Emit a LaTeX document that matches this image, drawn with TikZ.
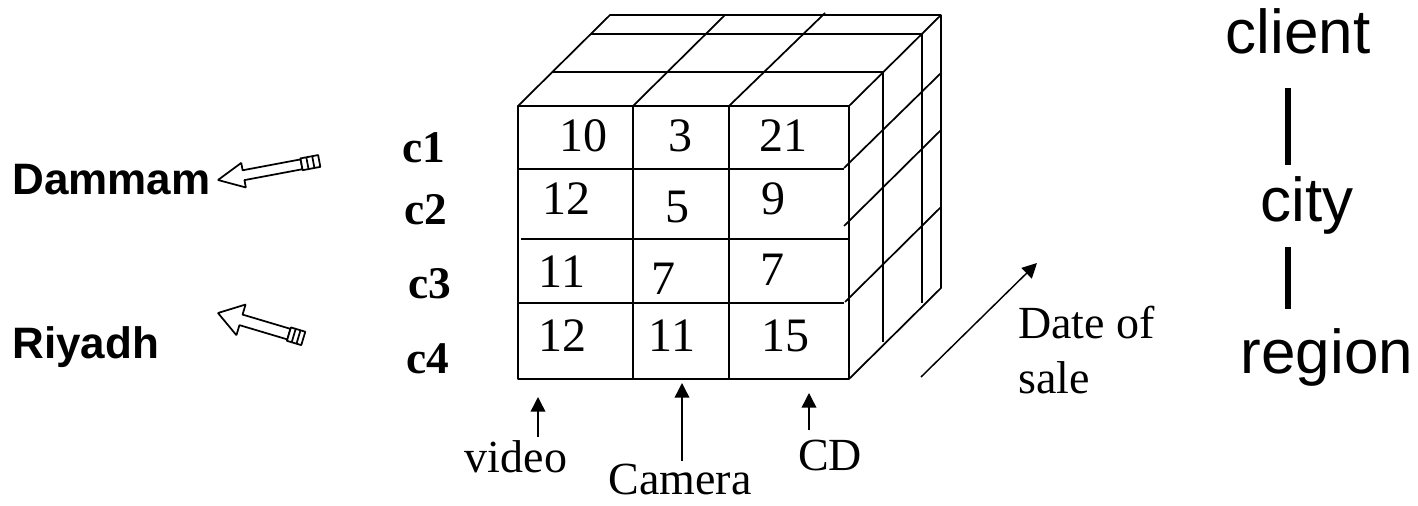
\documentclass[tikz,border=0pt]{standalone}
\usepackage{fontspec}
\setmainfont{Liberation Serif}
\newfontfamily\arialfont{Liberation Sans}
\usetikzlibrary{arrows.meta}

\begin{document}
\begin{tikzpicture}[x=0.75pt,y=-0.75pt,>={Triangle[length=11pt,width=11pt]},line join=bevel,
    cube/.style={line width=1.3pt},
    cell/.style={anchor=base,inner sep=0pt,font=\fontsize{36}{40}\selectfont},
    axislabel/.style={anchor=base,inner sep=0pt,font=\fontsize{34.5}{38}\selectfont},
    member/.style={anchor=base,inner sep=0pt,font=\bfseries\fontsize{34}{38}\selectfont},
    place/.style={anchor=base west,inner sep=0pt,font=\arialfont\bfseries\fontsize{33}{36}\selectfont},
    level/.style={anchor=base,inner sep=0pt,font=\arialfont\fontsize{46.5}{50}\selectfont},
    pointer/.style={->,line width=1.1pt},
    levelbar/.style={line width=5pt},
    fatarrow/.style={line width=1.3pt,fill=white}]
    \useasboundingbox (0,0) rectangle (1418,506);
    %%
    %% front face
    \draw[cube] (518,106) rectangle (849,379);
    \foreach \x in {633,729}
        \draw[cube] (\x,106) -- (\x,379);
    \draw[cube] (518,169) -- (844,169);
    \draw[cube] (521,239) -- (849,239);
    \draw[cube] (518,303) -- (844,303);
    %% top face
    \draw[cube] (518,106) -- (610,15) -- (941,15) -- (849,106);
    \draw[cube] (633,106) -- (725,15);
    \draw[cube] (729,106) -- (825,13);
    \draw[cube] (552,72) -- (883,72) -- (883,342);
    \draw[cube] (591,34) -- (922,34) -- (922,303);
    %% right face
    \draw[cube] (941,15) -- (941,288) -- (849,379);
    \draw[cube] (844,168) -- (941,73);
    \draw[cube] (844,226) -- (941,130);
    \draw[cube] (845,302) -- (941,207);
    %%
    \node (v11) at (583,152) [cell] {10};
    \node (v12) at (680,152) [cell] {3};
    \node (v13) at (783,152) [cell] {21};
    \node (v21) at (566,215) [cell] {12};
    \node (v22) at (677,223) [cell] {5};
    \node (v23) at (773,215) [cell] {9};
    \node (v31) at (562,287) [cell] {11};
    \node (v32) at (663,295) [cell] {7};
    \node (v33) at (772,286) [cell] {7};
    \node (v41) at (562,351) [cell] {12};
    \node (v42) at (672,351) [cell] {11};
    \node (v43) at (785,351) [cell] {15};
    %%
    \node (c1) at (424,163) [member] {c1};
    \node (c2) at (426,225) [member] {c2};
    \node (c3) at (430,298) [member] {c3};
    \node (c4) at (428,373) [member] {c4};
    %%
    \node (video) at (516,472) [axislabel] {video};
    \node (camera) at (680,494) [axislabel] {Camera};
    \node (cd) at (830,470) [axislabel] {CD};
    \node (date) at (1018,338) [axislabel,anchor=base west] {Date of};
    \node (sale) at (1018,393) [axislabel,anchor=base west] {sale};
    \coordinate (videotip) at (538,397);
    \coordinate (cameratip) at (682,383);
    \coordinate (cdtip) at (809,393);
    \coordinate (datetail) at (921,377);
    \coordinate (datetip) at (1037,263);
    \draw[pointer,shorten <=2pt] (video.north -| videotip) -- (videotip);
    \draw[pointer,shorten <=2pt] (camera.north -| cameratip) -- (cameratip);
    \draw[pointer,shorten <=7pt] (cd.north -| cdtip) -- (cdtip);
    \draw[pointer] (datetail) -- (datetip);
    %%
    \node (dammam) at (12,195) [place] {Dammam};
    \node (riyadh) at (12,358) [place] {Riyadh};
    \coordinate (dammamtip) at (218,180);
    \coordinate (riyadhtip) at (218,313);
    \begin{scope}[shift={(dammamtip)},rotate=10.65,x=0.75pt,y=0.75pt]
        \draw[fatarrow] (0,0) -- (26,12.5) -- (26,5) -- (85,5) -- (85,-5) -- (26,-5) -- (26,-12.5) -- cycle;
        \draw[fatarrow] (85,-6) rectangle (103,6);
        \draw[fatarrow] (91,-6) -- (91,6) (97,-6) -- (97,6);
    \end{scope}
    \begin{scope}[shift={(riyadhtip)},rotate=-16.6,x=0.75pt,y=0.75pt]
        \draw[fatarrow] (0,0) -- (24,16) -- (24,5.5) -- (74,5.5) -- (74,-5.5) -- (24,-5.5) -- (24,-16) -- cycle;
        \draw[fatarrow] (74,-7) rectangle (89,7);
        \draw[fatarrow] (79,-7) -- (79,7) (84,-7) -- (84,7);
    \end{scope}
    %%
    \node (client) at (1298,54) [level] {client};
    \node (city) at (1307,222) [level] {city};
    \node (region) at (1327,373) [level] {region};
    \coordinate (barx) at (1288,0);
    \draw[levelbar,shorten <=24.75pt,shorten >=9pt] (client.south -| barx) -- (city.north -| barx);
    \draw[levelbar,shorten <=9pt,shorten >=14.25pt] (city.south -| barx) -- (region.north -| barx);
    %
\end{tikzpicture}
\end{document}
